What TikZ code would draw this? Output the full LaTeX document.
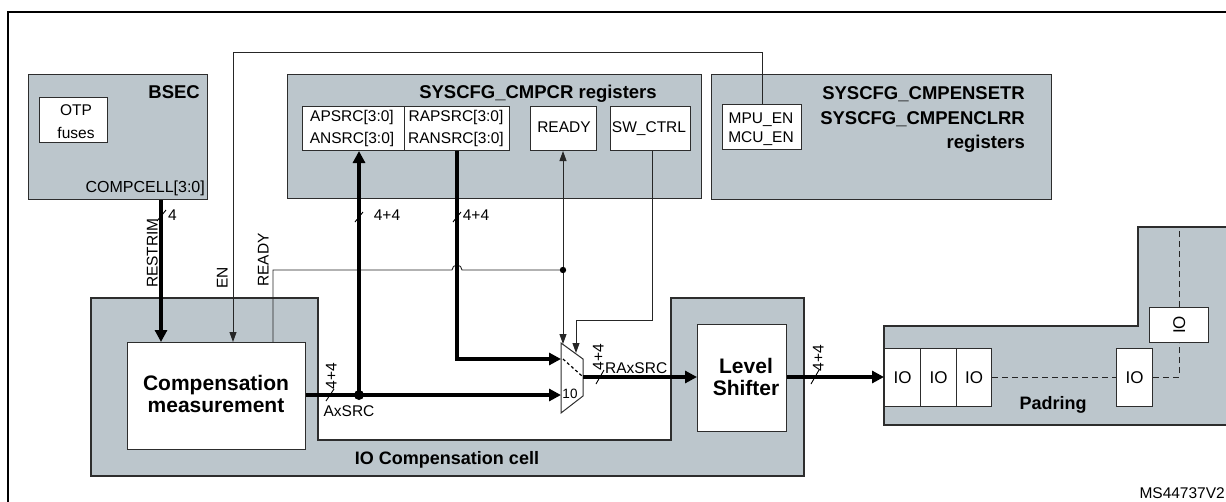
\documentclass[tikz,border=0pt]{standalone}
\usepackage{fontspec}
\setmainfont{Liberation Sans}
\usetikzlibrary{arrows.meta}
\definecolor{cellgray}{RGB}{188,198,204}
\definecolor{edge}{RGB}{45,45,45}
\begin{document}
\begin{tikzpicture}[x=1pt,y=-1pt,
  region/.style={fill=cellgray,draw=edge,line width=1.1pt,inner sep=0pt,anchor=north west},
  wbox/.style={fill=white,draw=edge,line width=1pt,inner sep=0pt,anchor=north west},
  bus/.style={line width=3.6pt},
  sig/.style={line width=0.9pt,draw=black!85},
  bigtip/.style={-{Triangle[length=12pt,width=12pt]}},
  smalltip/.style={-{Triangle[length=10pt,width=7pt]}},
  slash/.style={line width=0.9pt},
  txt/.style={font=\fontsize{15.5}{18}\selectfont,inner sep=0pt,text height=11.1pt,text depth=0pt},
  ttxt/.style={font=\fontsize{16}{18}\selectfont,inner sep=0pt,text height=11.4pt,text depth=0pt},
  stxt/.style={font=\fontsize{13.5}{16}\selectfont,inner sep=0pt,text height=9.7pt,text depth=0pt},
  btxt/.style={font=\fontsize{18.5}{21}\selectfont\bfseries,inner sep=0pt,text height=13.2pt,text depth=0pt},
  mtxt/.style={font=\fontsize{18}{21}\selectfont\bfseries,inner sep=0pt,text height=12.9pt,text depth=0pt},
  bigtxt/.style={font=\fontsize{21}{24}\selectfont\bfseries,inner sep=0pt,text height=15pt,text depth=0pt},
  iotxt/.style={font=\fontsize{17}{20}\selectfont,inner sep=0pt,text height=12.2pt,text depth=0pt},
]
\useasboundingbox (0,0) rectangle (1226,501);
\clip (0,0) rectangle (1226,501);

% outer frame
\draw[line width=1.6pt] (8,540) -- (8,12) -- (1260,12);

% gray regions
\node[region, minimum width=179pt, minimum height=125pt] (bsec) at (28,74) {};
\node[region, minimum width=414pt, minimum height=124pt] (cmpcr) at (287,74) {};
\node[region, minimum width=340pt, minimum height=125pt] (cmpen) at (711,74) {};
\draw[fill=cellgray,draw=edge,line width=1.1pt] (91,298) -- (318,298) -- (318,440) -- (671,440) -- (671,298) -- (804,298) -- (804,476) -- (91,476) -- cycle;
\draw[fill=cellgray,draw=edge,line width=1.1pt] (884,326) -- (1138,326) -- (1138,227) -- (1250,227) -- (1250,425) -- (884,425) -- cycle;

% white boxes
\node[wbox, minimum width=68pt, minimum height=45pt] (otp) at (39,97) {};
\node[wbox, minimum width=102pt, minimum height=44pt] (apsrc) at (302,106) {};
\node[wbox, minimum width=105pt, minimum height=44pt] (rapsrc) at (404,106) {};
\node[wbox, minimum width=66pt, minimum height=44pt] (ready) at (530,106) {};
\node[wbox, minimum width=80pt, minimum height=44pt] (swctrl) at (610,106) {};
\node[wbox, minimum width=79pt, minimum height=45pt] (mpu) at (722,104) {};
\node[wbox, minimum width=178pt, minimum height=107pt] (comp) at (127,342) {};
\node[wbox, minimum width=89pt, minimum height=107pt] (ls) at (697,324) {};
\node[wbox, minimum width=36pt, minimum height=58pt] (io1) at (884,348) {};
\node[wbox, minimum width=36pt, minimum height=58pt] (io2) at (920,348) {};
\node[wbox, minimum width=35pt, minimum height=58pt] (io3) at (956,348) {};
\node[wbox, minimum width=36pt, minimum height=58pt] (io4) at (1116,348) {};
\node[wbox, minimum width=59pt, minimum height=35pt] (io5) at (1149,307) {};

% multiplexer
\draw[fill=white,draw=edge,line width=1pt] (561,343) -- (583,359) -- (583,396) -- (561,413) -- cycle;
\draw[line width=1.2pt,dash pattern=on 3pt off 2.5pt] (563,359) -- (582,376);
\coordinate (min1) at (561,359);
\coordinate (min0) at (561,395);
\coordinate (mout) at (583,377);
\coordinate (msel1) at (563,344);
\coordinate (msel2) at (576,353);
\coordinate (jax) at (359,395);
\coordinate (jr) at (563,270);

% connectors
\draw[bus,bigtip] (bsec.south -| 161,0) -- (comp.north -| 161,0);
\draw[sig,smalltip] (mpu.north) -- (mpu.north |- 0,52) -- (233,52) -- (comp.north -| 233,0);
\draw[sig] (comp.north -| 273,0) -- (273,270) -- (452,270) arc[start angle=180,end angle=360,radius=5] -- (jr);
\draw[sig,smalltip] (jr) -- (ready.south -| jr);
\draw[sig,smalltip] (jr) -- (msel1);
\fill (jr) circle[radius=3.2];
\draw[sig,smalltip] (swctrl.south -| 652,0) -- (652,320) -- (576,320) -- (msel2);
\draw[bus,bigtip] (jax) -- (apsrc.south -| jax);
\draw[bus,bigtip] (rapsrc.south -| 457,0) -- (457,359) -- (min1);
\draw[bus,bigtip] (comp.east |- jax) -- (min0);
\fill (jax) circle[radius=5];
\draw[bus,bigtip] (mout) -- (ls.west |- mout);
\draw[bus,bigtip] (ls.east |- mout) -- (io1.west |- mout);
\draw[sig,dash pattern=on 6pt off 4pt] (io3.east |- mout) -- (io4.west |- mout);
\draw[sig,dash pattern=on 6pt off 4pt] (io4.east |- mout) -- (1179,377) -- (io5.south -| 1179,0);
\draw[sig,dash pattern=on 6pt off 4pt] (io5.north -| 1179,0) -- (1179,229);

% bus width slashes
\draw[slash] (157,221) -- ++(9,-11);
\draw[slash] (355,222) -- ++(8,-10);
\draw[slash] (453,222) -- ++(8,-10);
\draw[slash] (326,401) -- ++(8,-12);
\draw[slash] (596,384) -- ++(8,-14);
\draw[slash] (811,384) -- ++(8,-14);

% texts
\node[btxt, anchor=east] (tbsec) at (200,92) {BSEC};
\node[txt] (totp) at (76,110) {OTP};
\node[txt] (tfuses) at (76,133) {fuses};
\node[ttxt, anchor=east] (tcc) at (205,187) {COMPCELL[3:0]};
\node[btxt] (tcmpcr) at (538,92) {SYSCFG\_CMPCR registers};
\node[txt] (tap) at (352,116) {APSRC[3:0]};
\node[txt] (tan) at (352,138) {ANSRC[3:0]};
\node[txt] (trap) at (456,116) {RAPSRC[3:0]};
\node[txt] (tran) at (456,138) {RANSRC[3:0]};
\node[txt] (trdy) at (564,127) {READY};
\node[txt] (tsw) at (649,127) {SW\_CTRL};
\node[txt] (tmpu) at (761,118) {MPU\_EN};
\node[txt] (tmcu) at (761,137) {MCU\_EN};
\node[btxt, anchor=east] (ten1) at (1025,93) {SYSCFG\_CMPENSETR};
\node[btxt, anchor=east] (ten2) at (1025,118) {SYSCFG\_CMPENCLRR};
\node[btxt, anchor=east] (ten3) at (1025,142) {registers};
\node[txt, anchor=west] (t4a) at (168,215) {4};
\node[txt] (t4b) at (387,215) {4+4};
\node[txt] (t4c) at (476,215) {4+4};
\node[txt, rotate=90] (tres) at (152,253) {RESTRIM};
\node[txt, rotate=90] (ten) at (222,278) {EN};
\node[txt, rotate=90] (tready) at (263,260) {READY};
\node[bigtxt] (tcomp1) at (216,383) {Compensation};
\node[bigtxt] (tcomp2) at (216,405) {measurement};
\node[txt, rotate=90] (t4d) at (331,376) {4+4};
\node[txt] (tax) at (349,411) {AxSRC};
\node[stxt] (t10) at (570,394) {10};
\node[txt, rotate=90] (t4e) at (598,357) {4+4};
\node[txt, anchor=west] (trax) at (605,368) {RAxSRC};
\node[txt, rotate=90] (t4f) at (818,358) {4+4};
\node[bigtxt] (tls1) at (746,366) {Level};
\node[bigtxt] (tls2) at (746,388) {Shifter};
\node[mtxt] (tioc) at (447,458) {IO Compensation cell};
\node[iotxt] (tio1) at (io1) {IO};
\node[iotxt] (tio2) at (io2) {IO};
\node[iotxt] (tio3) at (io3) {IO};
\node[iotxt] (tio4) at (io4) {IO};
\node[iotxt, rotate=90] (tio5) at (io5) {IO};
\node[mtxt] (tpad) at (1053,403) {Padring};
\node[txt, anchor=east] (tms) at (1225,493) {MS44737V2};
\end{tikzpicture}
\end{document}
